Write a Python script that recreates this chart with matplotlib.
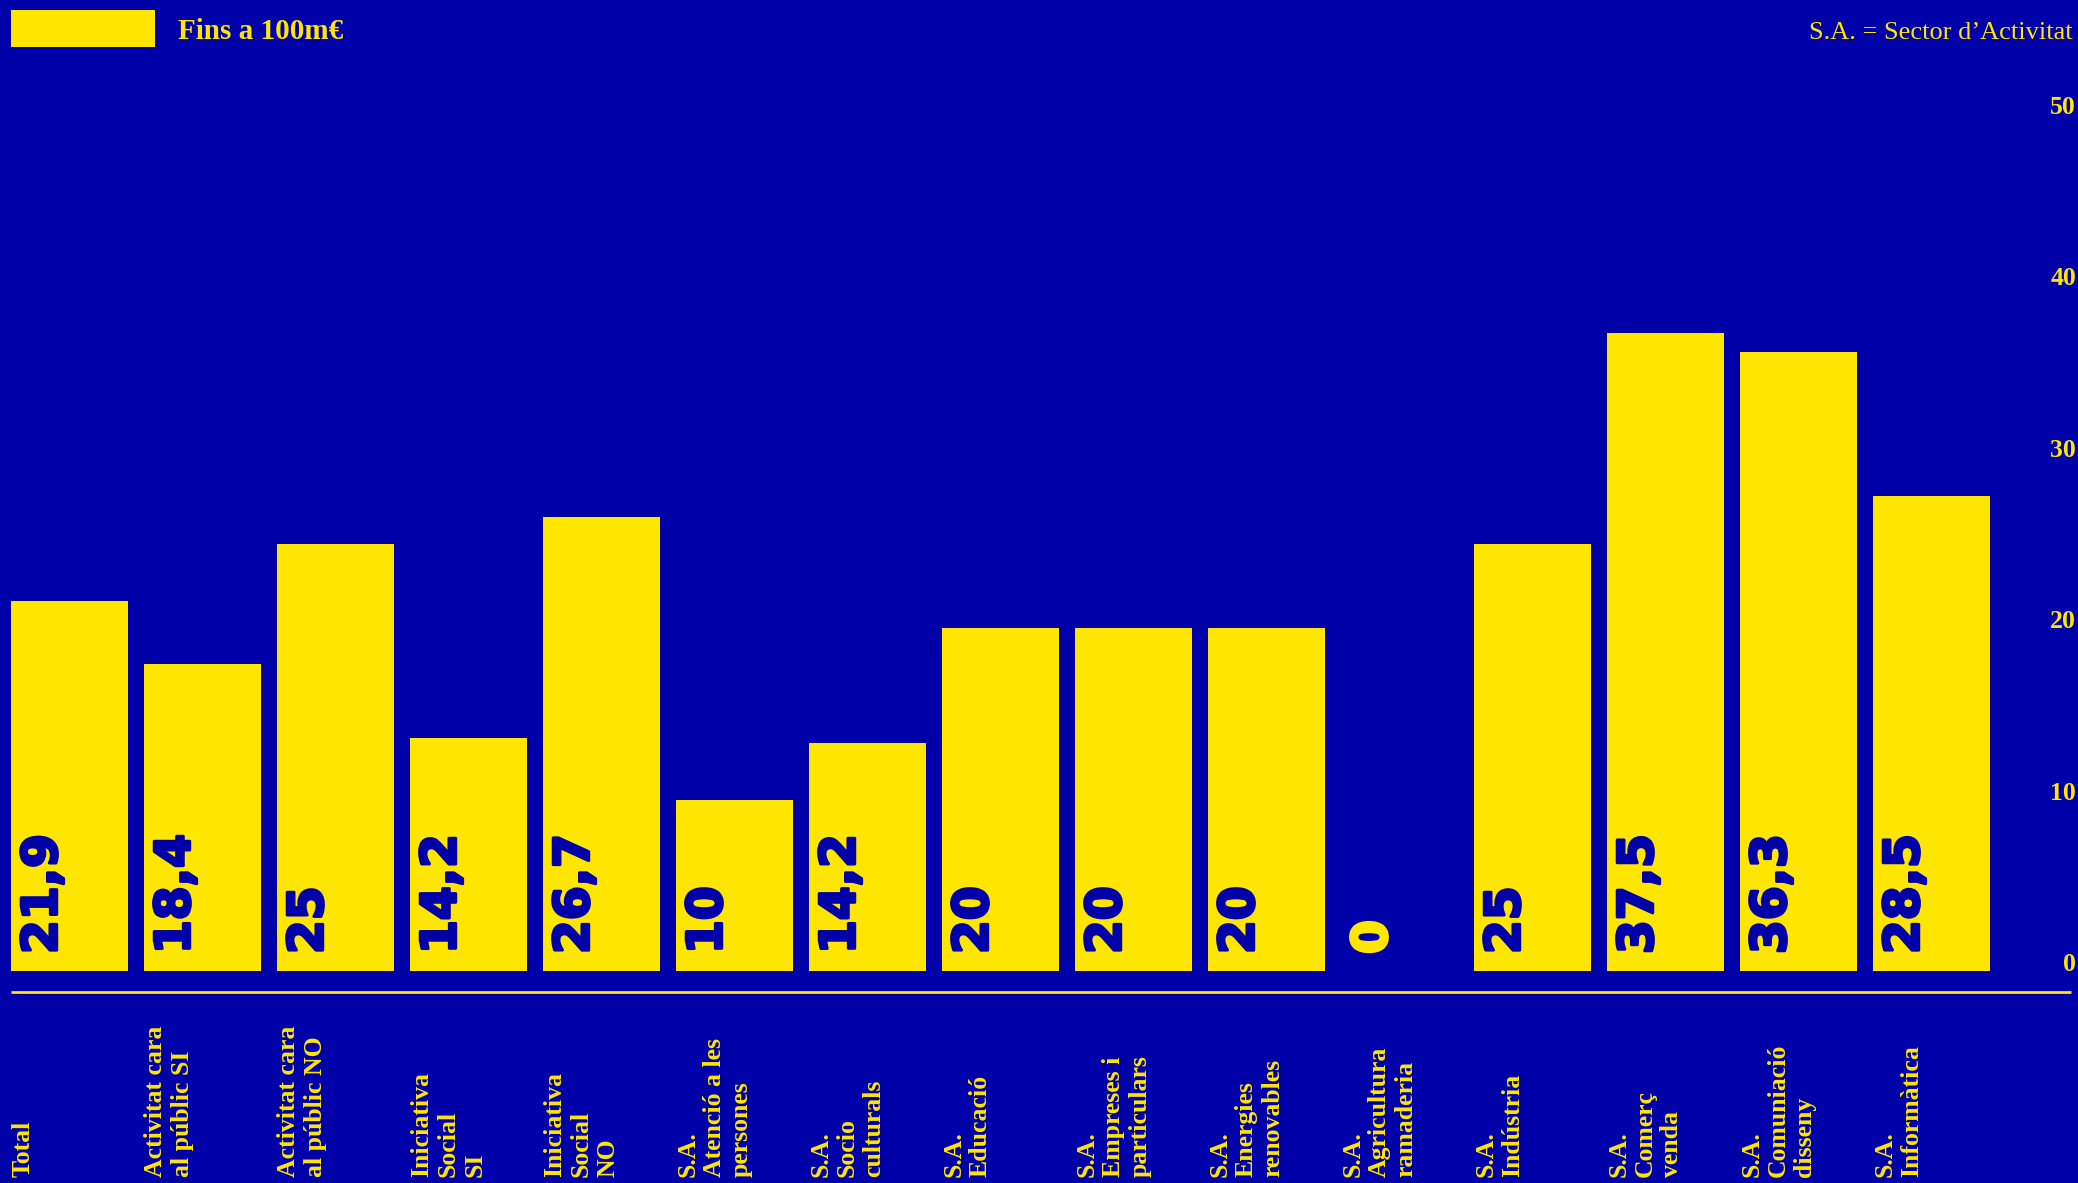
import matplotlib
matplotlib.use("Agg")
import matplotlib.pyplot as plt
import matplotlib.patches as mpatches
import matplotlib.patheffects as pe
from matplotlib.transforms import blended_transform_factory

BG = "#0000A8"
YELLOW = "#FFE600"

categories = [
    "Total",
    "Activitat cara\nal públic SI",
    "Activitat cara\nal públic NO",
    "Iniciativa\nSocial\nSI",
    "Iniciativa\nSocial\nNO",
    "S.A.\nAtenció a les\npersones",
    "S.A.\nSocio\nculturals",
    "S.A.\nEducació",
    "S.A.\nEmpreses i\nparticulars",
    "S.A.\nEnergies\nrenovables",
    "S.A.\nAgricultura\nramaderia",
    "S.A.\nIndústria",
    "S.A.\nComerç\nvenda",
    "S.A.\nComuniació\ndisseny",
    "S.A.\nInformàtica",
]
# bar heights as drawn in the picture
heights = [21.6, 17.9, 24.9, 13.6, 26.5, 10.0, 13.3, 20.0, 20.0, 20.0, 0.0, 24.9, 37.2, 36.1, 27.7]
# printed value labels
value_labels = ["21,9", "18,4", "25", "14,2", "26,7", "10", "14,2", "20", "20", "20", "0",
                "25", "37,5", "36,3", "28,5"]
y_ticks = [0, 10, 20, 30, 40, 50]

W, H = 2078, 1183
fig = plt.figure(figsize=(W / 100, H / 100), dpi=100, facecolor=BG)
ax = fig.add_axes([0, 0, 1, 1])
ax.set_facecolor(BG)

x = list(range(len(categories)))
ax.bar(x, heights, width=0.877, color=YELLOW, linewidth=0)

ax.set_xlim(-0.524, 15.10)
ax.set_ylim(-12.37, 56.65)
for s in ax.spines.values():
    s.set_visible(False)

# baseline under the bars
ax.plot([-0.44, 15.05], [-1.2, -1.2], color=YELLOW, lw=2, solid_capstyle="butt", clip_on=False)

# y ticks on the right, inside the figure
ax.set_xticks([])
ax.set_yticks(y_ticks)
ax.set_yticklabels([str(t) for t in y_ticks])
ax.tick_params(axis="y", left=False, right=False, labelleft=False, labelright=True,
               pad=-5, labelcolor=YELLOW)
for lab in ax.get_yticklabels():
    lab.set_ha("right")
    lab.set_va("baseline")
    lab.set_fontfamily("Liberation Serif")
    lab.set_fontweight("bold")
    lab.set_fontsize(18.5)

# value labels inside the bars
for xi, h, lbl in zip(x, heights, value_labels):
    c = BG if h > 0 else YELLOW
    ax.annotate(lbl, (xi, 0), xytext=(-27 * 0.72, 17 * 0.72), textcoords="offset points",
                rotation=90, ha="center", va="bottom", fontsize=35, fontweight="bold",
                family="DejaVu Sans", color=c,
                path_effects=[pe.withStroke(linewidth=2.2, foreground=c)])

# category labels at the bottom
trans = blended_transform_factory(ax.transData, ax.transAxes)
for xi, cat in zip(x, categories):
    ax.text(xi - 0.44, 6 / H, cat, transform=trans, rotation=90, ha="left", va="bottom",
            multialignment="left", linespacing=1.2, fontsize=18.5, fontweight="bold",
            family="Liberation Serif", color=YELLOW)

# legend and note
fig.patches.append(mpatches.Rectangle((11 / W, 1 - 47 / H), 144 / W, 37 / H,
                                      transform=fig.transFigure, color=YELLOW, linewidth=0))
fig.text(178 / W, 1 - 39 / H, "Fins a 100m€", ha="left", va="baseline", fontsize=21,
         fontweight="bold", family="Liberation Serif", color=YELLOW)
fig.text(2073 / W, 1 - 39 / H, "S.A. = Sector d’Activitat", ha="right", va="baseline",
         fontsize=19, family="Liberation Serif", color=YELLOW)

fig.savefig("out.png", dpi=100, facecolor=BG)
